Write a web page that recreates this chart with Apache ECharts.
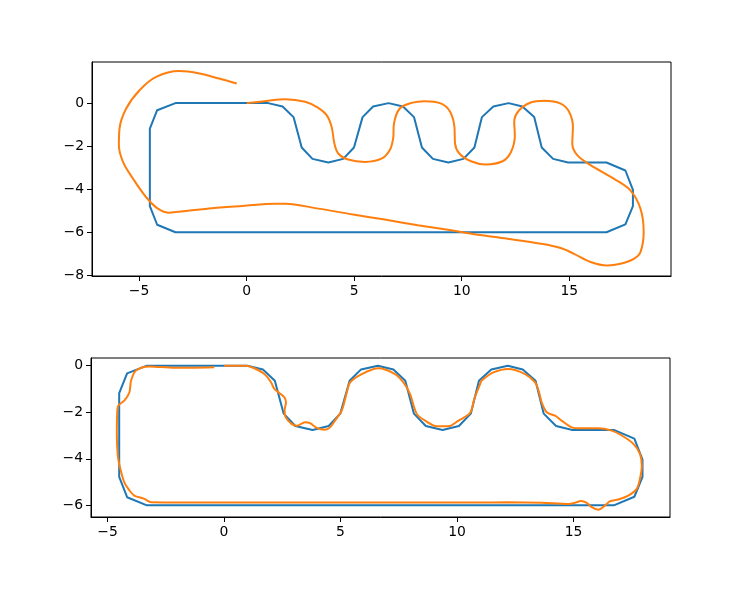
<!DOCTYPE html>
<html>
<head>
<meta charset="utf-8">
<script src="https://cdn.jsdelivr.net/npm/echarts@6/dist/echarts.min.js"></script>
<style>html,body{margin:0;padding:0;background:#fff;}#c{width:733px;height:601px;}</style>
</head>
<body>
<div id="c"></div>
<script>
// Reference track (blue), shared by both panels
var trackX = [0, 1, 1.67, 2.18, 2.56, 3.06, 3.8, 4.49, 4.99, 5.39, 5.88, 6.6, 7.27, 7.78, 8.15, 8.66, 9.38, 10.08, 10.59, 10.94, 11.47, 12.18, 12.82, 13.37, 13.72, 14.25, 14.95, 16.73, 17.61, 17.96, 17.96, 17.61, 16.73, -3.31, -4.16, -4.5, -4.5, -4.16, -3.31, 0];
var trackY = [0, 0, -0.16, -0.65, -2.06, -2.59, -2.76, -2.59, -2.06, -0.65, -0.16, 0, -0.16, -0.65, -2.06, -2.59, -2.76, -2.59, -2.06, -0.65, -0.16, 0, -0.16, -0.65, -2.06, -2.59, -2.76, -2.76, -3.13, -4.03, -4.78, -5.63, -6, -6, -5.65, -4.78, -1.18, -0.33, 0, 0];

// Top panel: driven path (orange)
var topPathX = [0, 0.9, 1.8, 2.72, 3.33, 3.72, 3.95, 4.08, 4.26, 4.72, 5.5, 6.27, 6.65, 6.81, 6.85, 7.12, 7.66, 8.27, 9.05, 9.46, 9.66, 9.69, 9.89, 10.43, 11.1, 11.9, 12.29, 12.47, 12.44, 12.67, 13.21, 13.83, 14.6, 14.99, 15.17, 15.14, 15.37, 15.99, 17.07, 17.84, 18.31, 18.46, 18.31, 18.0, 17.38, 16.76, 15.99, 15.22, 14.6, 13.68, 12.13, 10.59, 9.51, 7.96, 6.42, 4.88, 3.33, 1.79, 1.34, -0.2, -1.74, -3.29, -3.59, -4.13, -4.68, -5.29, -5.75, -5.94, -5.91, -5.6, -4.98, -4.21, -3.13, -2.2, -1.28, -0.46];
var topPathY = [0, 0.1, 0.18, 0.06, -0.22, -0.56, -1.1, -1.88, -2.34, -2.62, -2.73, -2.58, -2.19, -1.65, -0.95, -0.25, 0.01, 0.09, -0.02, -0.4, -1.1, -1.88, -2.34, -2.7, -2.85, -2.7, -2.27, -1.49, -0.87, -0.33, 0.03, 0.11, -0.02, -0.4, -1.1, -1.88, -2.42, -2.88, -3.51, -4.05, -4.9, -5.99, -6.92, -7.23, -7.46, -7.54, -7.38, -7.0, -6.73, -6.53, -6.3, -6.09, -5.91, -5.67, -5.41, -5.16, -4.9, -4.67, -4.67, -4.78, -4.9, -5.06, -5.09, -4.9, -4.36, -3.5, -2.73, -1.95, -1.18, -0.25, 0.6, 1.22, 1.49, 1.38, 1.14, 0.91];

// Bottom panel: driven path (orange)
var botPathX = [0, 0.94, 1.3, 1.73, 2.02, 2.16, 2.37, 2.59, 2.66, 2.6, 2.62, 2.9, 3.12, 3.48, 3.69, 3.98, 4.33, 4.55, 4.76, 5.05, 5.27, 5.41, 5.91, 6.62, 7.34, 7.7, 7.98, 8.27, 8.63, 9.13, 9.63, 10.06, 10.56, 10.74, 10.99, 11.06, 11.56, 12.2, 12.92, 13.35, 13.52, 13.63, 13.85, 14.21, 14.49, 14.92, 15.21, 16.06, 16.64, 17.07, 17.57, 17.85, 17.93, 17.85, 17.71, 17.35, 16.92, 16.57, 16.35, 16.06, 15.78, 15.57, 15.32, 15.06, 14.78, 13.63, 12.2, 10.77, 8, 5, 2, -1, -3.13, -3.42, -3.85, -4.06, -4.28, -4.45, -4.56, -4.6, -4.59, -4.54, -4.28, -4.06, -3.99, -3.78, -3.21, -2.13, -1.42, -0.42];
var botPathY = [0, 0, -0.11, -0.36, -0.72, -1.0, -1.17, -1.36, -1.57, -1.9, -2.15, -2.5, -2.58, -2.43, -2.47, -2.67, -2.75, -2.65, -2.36, -1.93, -1.14, -0.72, -0.36, -0.11, -0.36, -0.72, -1.21, -2.07, -2.36, -2.6, -2.6, -2.36, -2.03, -1.43, -0.79, -0.64, -0.29, -0.14, -0.36, -0.72, -1.14, -1.57, -2.0, -2.15, -2.36, -2.65, -2.69, -2.69, -2.79, -3.0, -3.36, -3.79, -4.29, -4.86, -5.29, -5.58, -5.75, -5.82, -6.01, -6.19, -6.08, -5.89, -5.81, -5.89, -5.94, -5.89, -5.87, -5.88, -5.88, -5.88, -5.88, -5.88, -5.87, -5.72, -5.58, -5.36, -5.01, -4.43, -3.86, -3.0, -2.15, -1.72, -1.5, -1.14, -0.64, -0.21, -0.03, -0.09, -0.09, -0.07];

var xTicks = [-5, 0, 5, 10, 15];
var yTicksTop = [-8, -6, -4, -2, 0];
var yTicksBot = [-6, -4, -2, 0];

function pairs(xs, ys) { return xs.map(function (x, i) { return [x, ys[i]]; }); }
function fmt(v) { return String(v).replace('-', '\u2212'); }

var FONT = 'DejaVu Sans';
function xAxis(gi, mn, mx) {
  return {
    type: 'value', gridIndex: gi, min: mn, max: mx,
    axisLine: { show: true, onZero: false, lineStyle: { color: '#000', width: 1 } },
    axisTick: { show: true, length: 5, lineStyle: { color: '#000', width: 1 }, customValues: xTicks },
    axisLabel: { customValues: xTicks, formatter: fmt, color: '#000', fontSize: 13.9, fontFamily: FONT, margin: 8 },
    splitLine: { show: false }
  };
}
function yAxis(gi, mn, mx, ticks) {
  return {
    type: 'value', gridIndex: gi, min: mn, max: mx,
    axisLine: { show: true, onZero: false, lineStyle: { color: '#000', width: 1 } },
    axisTick: { show: true, length: 5, lineStyle: { color: '#000', width: 1 }, customValues: ticks },
    axisLabel: { customValues: ticks, formatter: fmt, color: '#000', fontSize: 13.9, fontFamily: FONT, margin: 8 },
    splitLine: { show: false }
  };
}

var chart = echarts.init(document.getElementById('c'), null, { renderer: 'canvas' });
chart.setOption({
  animation: false,
  backgroundColor: '#fff',
  grid: [
    { left: 92, top: 62, width: 579, height: 214, show: true, borderColor: '#000', borderWidth: 1, backgroundColor: 'transparent' },
    { left: 91, top: 358, width: 579, height: 159, show: true, borderColor: '#000', borderWidth: 1, backgroundColor: 'transparent' }
  ],
  xAxis: [xAxis(0, -7.19, 19.73), xAxis(1, -5.71, 19.14)],
  yAxis: [yAxis(0, -8.03, 1.91, yTicksTop), yAxis(1, -6.5, 0.33, yTicksBot)],
  series: [
    { type: 'line', xAxisIndex: 0, yAxisIndex: 0, data: pairs(trackX, trackY), showSymbol: false, symbol: 'none', lineStyle: { color: '#1f77b4', width: 2 } },
    { type: 'line', xAxisIndex: 0, yAxisIndex: 0, data: pairs(topPathX, topPathY), showSymbol: false, symbol: 'none', smooth: 0.35, lineStyle: { color: '#ff7f0e', width: 2 } },
    { type: 'line', xAxisIndex: 1, yAxisIndex: 1, data: pairs(trackX, trackY), showSymbol: false, symbol: 'none', lineStyle: { color: '#1f77b4', width: 2 } },
    { type: 'line', xAxisIndex: 1, yAxisIndex: 1, data: pairs(botPathX, botPathY), showSymbol: false, symbol: 'none', smooth: 0.3, lineStyle: { color: '#ff7f0e', width: 2 } }
  ]
});
</script>
</body>
</html>
